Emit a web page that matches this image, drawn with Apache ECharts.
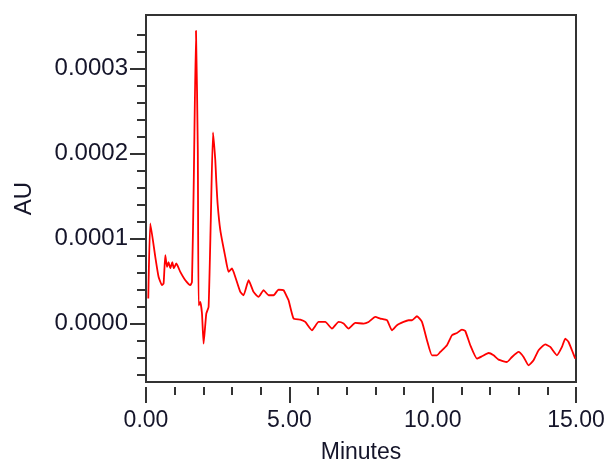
<!DOCTYPE html>
<html>
<head>
<meta charset="utf-8">
<script src="https://cdn.jsdelivr.net/npm/echarts@6/dist/echarts.min.js"></script>
<style>html,body{margin:0;padding:0;background:#fff}#c{width:608px;height:464px}</style>
</head>
<body>
<div id="c"></div>
<script>
// Retention time (minutes)
const minutes = [0.08,0.15,0.324,0.44,0.558,0.614,0.673,0.732,0.788,0.848,0.917,0.97,1.057,1.196,1.371,1.545,1.604,1.667,1.744,1.807,1.835,1.894,1.953,2.009,2.103,2.183,2.26,2.337,2.417,2.45,2.50,2.592,2.766,2.881,3.0,3.115,3.289,3.404,3.579,3.753,3.927,4.102,4.276,4.451,4.625,4.799,4.918,4.974,5.148,5.382,5.556,5.79,6.02,6.254,6.488,6.718,6.892,7.067,7.3,7.59,7.764,7.998,8.172,8.406,8.58,8.755,8.985,9.159,9.278,9.452,9.627,9.801,9.975,10.15,10.265,10.499,10.673,10.848,11.022,11.137,11.312,11.545,11.72,11.95,12.124,12.298,12.592,12.766,12.996,13.171,13.345,13.519,13.694,13.927,14.102,14.336,14.51,14.625,14.74,14.859,14.974];
// Absorbance (AU)
const absorbance = [0.294e-4,1.176e-4,0.784e-4,0.548e-4,0.451e-4,0.471e-4,0.804e-4,0.666e-4,0.721e-4,0.651e-4,0.721e-4,0.651e-4,0.706e-4,0.607e-4,0.509e-4,0.451e-4,0.489e-4,1.686e-4,3.442e-4,2.039e-4,0.215e-4,0.254e-4,0.118e-4,-0.235e-4,0.118e-4,0.195e-4,1.215e-4,2.247e-4,1.921e-4,1.686e-4,1.40e-4,1.098e-4,0.784e-4,0.607e-4,0.647e-4,0.548e-4,0.372e-4,0.333e-4,0.509e-4,0.372e-4,0.313e-4,0.392e-4,0.333e-4,0.333e-4,0.4e-4,0.392e-4,0.313e-4,0.274e-4,0.059e-4,0.047e-4,0.019e-4,-0.079e-4,0.019e-4,0.019e-4,-0.059e-4,0.019e-4,0.0,-0.059e-4,0.007e-4,0.0,0.019e-4,0.078e-4,0.059e-4,0.039e-4,-0.079e-4,-0.02e-4,0.019e-4,0.039e-4,0.039e-4,0.086e-4,0.019e-4,-0.196e-4,-0.373e-4,-0.373e-4,-0.334e-4,-0.255e-4,-0.138e-4,-0.111e-4,-0.071e-4,-0.087e-4,-0.255e-4,-0.412e-4,-0.385e-4,-0.346e-4,-0.373e-4,-0.424e-4,-0.452e-4,-0.393e-4,-0.334e-4,-0.393e-4,-0.491e-4,-0.432e-4,-0.314e-4,-0.244e-4,-0.275e-4,-0.373e-4,-0.275e-4,-0.176e-4,-0.216e-4,-0.314e-4,-0.412e-4];
// Axis ticks
const yMajorTicks = [0, 0.0001, 0.0002, 0.0003];
const yMinorTicks = [-0.00006,-0.00004,-0.00002,0,0.00002,0.00004,0.00006,0.00008,0.0001,0.00012,0.00014,0.00016,0.00018,0.0002,0.00022,0.00024,0.00026,0.00028,0.0003,0.00032,0.00034];
const yRange = [-0.0000687, 0.0003627];
const xRange = [0, 15];

const textColor = '#15152a';
const font = '"Liberation Sans", Arial, sans-serif';
const chart = echarts.init(document.getElementById('c'), null, {renderer: 'canvas'});
chart.setOption({
  animation: false,
  backgroundColor: '#fff',
  grid: {left: 146, top: 15, right: 32, bottom: 82, show: true, borderColor: '#333', borderWidth: 2, backgroundColor: 'transparent', containLabel: false, outerBoundsMode: 'none'},
  xAxis: [
    {type: 'value', min: xRange[0], max: xRange[1], interval: 1, position: 'bottom', offset: 5,
     axisLine: {show: false, onZero: false}, splitLine: {show: false},
     axisTick: {show: true, length: 8, lineStyle: {color: '#333', width: 2}},
     axisLabel: {show: false}},
    {type: 'value', min: xRange[0], max: xRange[1], interval: 5, position: 'bottom', offset: 5,
     axisLine: {show: false, onZero: false}, splitLine: {show: false},
     axisTick: {show: true, length: 16, lineStyle: {color: '#333', width: 2}},
     axisLabel: {show: true, margin: 22, fontSize: 23, color: textColor, fontFamily: font, formatter: v => v.toFixed(2)},
     name: 'Minutes', nameLocation: 'middle', nameGap: 54,
     nameTextStyle: {fontSize: 23, color: textColor, fontFamily: font}}
  ],
  yAxis: [
    {type: 'value', min: yRange[0], max: yRange[1], position: 'left',
     axisLine: {show: false, onZero: false}, splitLine: {show: false},
     axisTick: {show: true, length: 9, customValues: yMinorTicks, lineStyle: {color: '#333', width: 2}},
     axisLabel: {show: false}},
    {type: 'value', min: yRange[0], max: yRange[1], position: 'left',
     axisLine: {show: false, onZero: false}, splitLine: {show: false},
     axisTick: {show: true, length: 16, customValues: yMajorTicks, lineStyle: {color: '#333', width: 2}},
     axisLabel: {show: true, margin: 18, fontSize: 24, color: textColor, fontFamily: font, customValues: yMajorTicks, formatter: v => v.toFixed(4)},
     name: 'AU', nameLocation: 'middle', nameGap: 110, nameRotate: 90,
     nameTextStyle: {fontSize: 24, color: textColor, fontFamily: font}}
  ],
  series: [{
    type: 'line', xAxisIndex: 0, yAxisIndex: 0,
    data: minutes.map((t, i) => [t, absorbance[i]]),
    showSymbol: false, smooth: 0.15,
    lineStyle: {color: '#ff0000', width: 1.8}
  }]
});
</script>
</body>
</html>
